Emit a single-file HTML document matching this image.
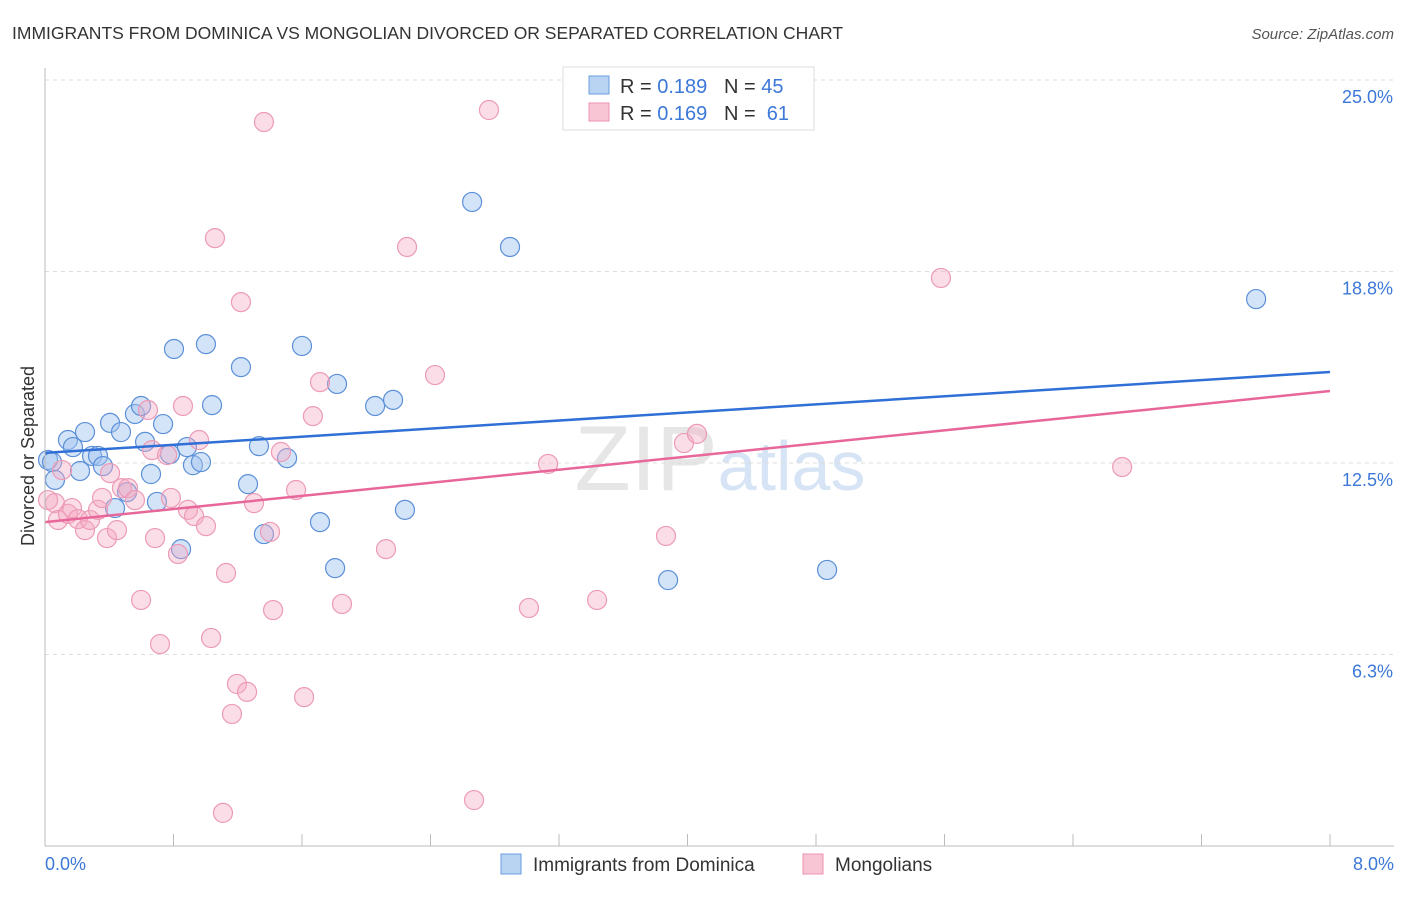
<!DOCTYPE html>
<html><head><meta charset="utf-8"><style>
body{margin:0;background:#fff;font-family:"Liberation Sans",sans-serif}
svg text{font-family:"Liberation Sans",sans-serif;white-space:pre}
</style></head><body>
<svg id="chart" width="1406" height="892">
<text x="12" y="39" font-size="17.5" fill="#333">IMMIGRANTS FROM DOMINICA VS MONGOLIAN DIVORCED OR SEPARATED CORRELATION CHART</text>
<text x="1394" y="39" font-size="15" fill="#555" font-style="italic" text-anchor="end">Source: ZipAtlas.com</text>
<text x="720" y="490" font-size="92" fill="#e6e6e6" text-anchor="middle" font-family="Liberation Serif">ZIP<tspan fill="#d6e4f5" font-family="Liberation Sans" font-size="70">atlas</tspan></text>
<g id="grid"></g><g id="pts"></g><g id="lines"></g>
<line x1="45" y1="68" x2="45" y2="846" stroke="#bbb"/>
<line x1="45" y1="846" x2="1394" y2="846" stroke="#bbb"/>
<text transform="translate(34,456) rotate(-90)" font-size="18" fill="#333" text-anchor="middle">Divorced or Separated</text>
<text x="45" y="870" font-size="18" fill="#3b78d8">0.0%</text>
<text x="1394" y="870" font-size="18" fill="#3b78d8" text-anchor="end">8.0%</text>
<g>
<rect x="563" y="67" width="251" height="63" fill="#fff" stroke="#ddd"/>
<rect x="589" y="76" width="20" height="18" fill="#b9d3f3" stroke="#6a9ee0"/>
<rect x="589" y="103" width="20" height="18" fill="#f8c5d5" stroke="#eb93b1"/>
<text x="620" y="93" font-size="20" fill="#333">R = <tspan fill="#3b78d8">0.189</tspan>   N = <tspan fill="#3b78d8">45</tspan></text>
<text x="620" y="120" font-size="20" fill="#333">R = <tspan fill="#3b78d8">0.169</tspan>   N =  <tspan fill="#3b78d8">61</tspan></text>
</g>
<g>
<rect x="501" y="854" width="20" height="20" fill="#b9d3f3" stroke="#6a9ee0"/>
<text x="533" y="871" font-size="19" fill="#333">Immigrants from Dominica</text>
<rect x="803" y="854" width="20" height="20" fill="#f8c5d5" stroke="#eb93b1"/>
<text x="835" y="871" font-size="19" fill="#333">Mongolians</text>
</g>
</svg>
<script>
const yTicks=[25,18.75,12.5,6.25];
const yTickLabels=["25.0%","18.8%","12.5%","6.3%"];
const xTicks=[0,0.8,1.6,2.4,3.2,4,4.8,5.6,6.4,7.2,8];
const blueX=[0.019,0.044,0.062,0.143,0.174,0.218,0.249,0.293,0.330,0.361,0.405,0.436,0.473,0.511,0.560,0.598,0.623,0.660,0.697,0.735,0.778,0.803,0.847,0.884,0.921,0.971,1.002,1.040,1.220,1.264,1.332,1.363,1.507,1.600,1.712,1.806,1.818,2.055,2.167,2.241,2.659,2.895,3.879,4.869,7.540];
const blueY=[12.60,12.53,11.95,13.25,13.02,12.24,13.51,12.73,12.73,12.40,13.81,11.03,13.51,11.55,14.10,14.36,13.19,12.14,11.23,13.77,12.79,16.22,9.69,13.02,12.43,12.53,16.38,14.39,15.63,11.81,13.05,10.18,12.66,16.32,10.57,9.07,15.08,14.36,14.56,10.97,21.02,19.55,8.68,9.01,17.85];
const pinkX=[0.062,0.081,0.106,0.143,0.168,0.205,0.249,0.280,0.330,0.355,0.386,0.405,0.448,0.479,0.517,0.560,0.598,0.641,0.666,0.685,0.716,0.760,0.784,0.828,0.859,0.890,0.928,0.959,1.002,1.034,1.058,1.127,1.164,1.195,1.220,1.258,1.301,1.363,1.401,1.420,1.469,1.563,1.613,1.668,1.712,1.849,2.123,2.254,2.428,2.671,2.764,3.013,3.132,3.437,3.866,3.978,4.059,5.578,6.706,1.108,0.019];
const pinkY=[11.19,10.64,12.27,10.84,11.03,10.67,10.31,10.64,10.97,11.36,10.05,12.17,10.31,11.68,11.68,11.29,8.03,14.23,12.92,10.05,6.59,12.76,11.36,9.53,14.36,10.97,10.77,13.25,10.44,6.79,19.84,8.91,4.31,5.29,17.75,5.03,11.19,23.63,10.25,7.70,12.86,11.62,4.86,14.03,15.14,7.90,9.69,19.55,15.37,1.50,24.02,7.77,12.47,8.03,10.12,13.15,13.45,18.54,12.37,1.08,11.29];
const blueTrend=[12.83,15.47];
const pinkTrend=[10.57,14.85];
const NS="http://www.w3.org/2000/svg";
const xs=v=>45+v/8*1285, ys=v=>846-v*30.64;
function mk(tag,attrs,parent){const e=document.createElementNS(NS,tag);for(const k in attrs)e.setAttribute(k,attrs[k]);parent.appendChild(e);return e;}
const grid=document.getElementById('grid');
yTicks.forEach((t,i)=>{
 const l=mk('line',{x1:45,x2:1394,y1:ys(t),y2:ys(t),stroke:'#ddd','stroke-dasharray':'4,4'},grid);
 
 
 const tx=mk('text',{x:1393,y:ys(t)+23,'font-size':18,fill:'#3b78d8','text-anchor':'end'},grid);
 tx.textContent=yTickLabels[i];
 
 
});
xTicks.forEach(t=>{
 const l=mk('line',{x1:xs(t),x2:xs(t),y1:834,y2:846,stroke:'#bbb'},grid);
 
 
});
const pts=document.getElementById('pts');
blueX.forEach((x,i)=>{
 const c=mk('circle',{cx:xs(x),cy:ys(blueY[i]),r:9.5,fill:'rgba(160,196,240,0.45)',stroke:'#5b8fd8','stroke-width':1.2},pts);
 
 
});
pinkX.forEach((x,i)=>{
 const c=mk('circle',{cx:xs(x),cy:ys(pinkY[i]),r:9.5,fill:'rgba(245,170,195,0.4)',stroke:'#ec9ab6','stroke-width':1.2},pts);
 
 
});
const lines=document.getElementById('lines');
const bl=mk('line',{x1:xs(0),x2:xs(8),y1:ys(blueTrend[0]),y2:ys(blueTrend[1]),stroke:'#2f6fd6','stroke-width':2.5},lines);


const pl=mk('line',{x1:xs(0),x2:xs(8),y1:ys(pinkTrend[0]),y2:ys(pinkTrend[1]),stroke:'#e8679a','stroke-width':2.5},lines);


</script>
</body></html>
